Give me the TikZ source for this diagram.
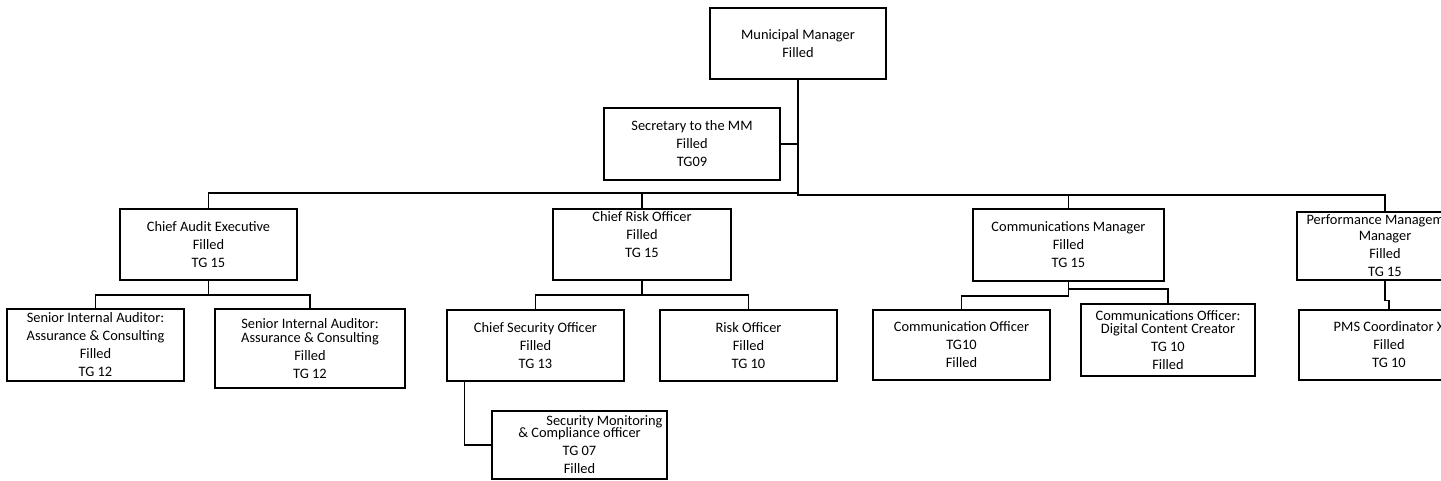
\documentclass[tikz,border=0pt]{standalone}
\usepackage{fontspec}
\setmainfont{Carlito}
\usepackage{tikz}
\usetikzlibrary{positioning, calc}
\tikzset{
  post/.style={rectangle, draw=black, fill=white, line width=0.75pt,
    inner sep=0pt, align=center, font=\fontsize{7.2}{9}\selectfont},
  link/.style={draw, line width=0.6pt, color=black},
  trunkline/.style={draw, line width=1.4pt, color=black}
}

\begin{document}
\begin{tikzpicture}[x=0.5pt, y=-0.5pt]
  \useasboundingbox (0,0) rectangle (1441,481);

  % Nodes
  \node[post, minimum width=88pt, minimum height=35.5pt] (mm) at (798,43.5) {
    Municipal Manager\\
    Filled
  };

  \node[post, minimum width=88pt, minimum height=36pt] (sec) at (692,144) {
    Secretary to the MM\\
    Filled\\
    TG09
  };

  \node[post, minimum width=88.5pt, minimum height=35.5pt] (cae) at (208.5,244.5) {
    Chief Audit Executive\\
    Filled\\
    TG 15
  };

  \node[post, minimum width=89pt, minimum height=35.5pt] (cro) at (642,244.5) {
    \raisebox{0pt}{Chief Risk Officer}\\
    Filled\\
    TG 15\\[-2pt]
    \strut
  };

  \node[post, minimum width=95.5pt, minimum height=36pt] (cm) at (1068.5,245) {
    Communications Manager\\
    Filled\\
    TG 15
  };

  \node[post, minimum width=88pt, minimum height=34pt] (pmm) at (1385,246) {
    Performance Management\\[-1pt]
    Manager\\
    Filled\\
    TG 15
  };

  \node[post, minimum width=88.5pt, minimum height=36pt] (sia1) at (95.5,345) {
    Senior Internal Auditor:\\
    Assurance \& Consulting\\
    Filled\\
    TG 12
  };

  \node[post, minimum width=95pt, minimum height=39.5pt] (sia2) at (310,348.5) {
    Senior Internal Auditor:\\[-2pt]
    Assurance \& Consulting\\
    Filled\\
    TG 12
  };

  \node[post, minimum width=88.5pt, minimum height=35.5pt] (cso) at (535.5,345.5) {
    Chief Security Officer\\
    Filled\\
    TG 13
  };

  \node[post, minimum width=88.5pt, minimum height=35.5pt] (ro) at (748.5,345.5) {
    Risk Officer\\
    Filled\\
    TG 10
  };

  \node[post, minimum width=87.5pt, minimum height=34pt] (smc) at (579.5,445) {
    \hspace*{25pt}Security Monitoring\\[-3pt]
    \& Compliance officer\\
    TG 07\\
    Filled
  };

  \node[post, minimum width=88.5pt, minimum height=35pt] (co) at (961.5,345) {
    Communication Officer\\
    TG10\\
    Filled
  };

  \node[post, minimum width=87pt, minimum height=36pt] (dcc) at (1168,340) {
    Communications Officer:\\[-2.5pt]
    Digital Content Creator\\
    TG 10\\
    Filled
  };

  \node[post, minimum width=90pt, minimum height=35pt] (pms) at (1389,345) {
    PMS Coordinator X\\
    Filled\\
    TG 10
  };

  \coordinate (trunk) at (798,195);
  \coordinate (lbus) at (798,193);
  \coordinate (caebus) at (208.5,295);
  \coordinate (crobus) at (642,295);
  \coordinate (cmbusl) at (1068.5,296);
  \coordinate (cmbusr) at (1068.5,289);

  % Connections
  \draw[link] (sec.east) -- (sec.east -| mm.south);
  \draw[link] (cae.north) |- (lbus);
  \draw[link] (cro.north) |- (lbus);
  \draw[link] (cm.north) |- (trunk);
  \draw[link] (pmm.north) |- (trunk);
  \draw[trunkline] (mm.south) -- (trunk) -- (trunk -| cm.north);

  \draw[link] (cae.south) -- (caebus);
  \draw[link] (sia1.north) |- (caebus) -| (sia2.north);

  \draw[link] (cro.south) -- (crobus);
  \draw[link] (cso.north) |- (crobus) -| (ro.north);
  \draw[link] ($(cso.south west)+(18,0)$) |- (smc.west);

  \draw[link] (cm.south) -- (cmbusl);
  \draw[link] (cmbusl) -| (co.north);
  \draw[link] (cmbusr) -| (dcc.north);

  % small jog down to the PMS coordinator
  \draw[link] (pmm.south) -- ++(0,20) -| (pms.north);
\end{tikzpicture}
\end{document}
